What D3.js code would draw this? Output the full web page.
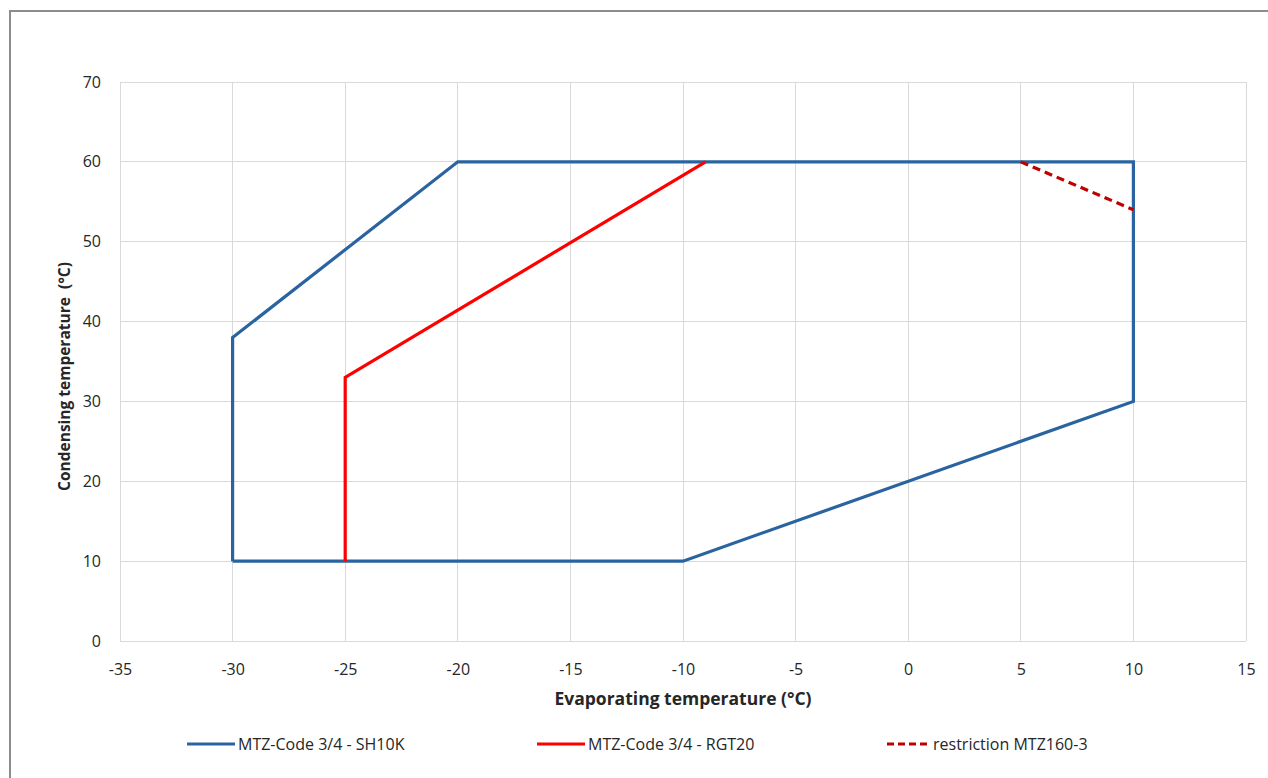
<!DOCTYPE html>
<html>
<head>
<meta charset="utf-8">
<script src="https://cdn.jsdelivr.net/npm/d3@7"></script>
<style>
  body { margin: 0; background: #fff; }
  svg text { font-family: "Open Sans", "Noto Sans", sans-serif; fill: #262626; }
</style>
</head>
<body>
<div id="chart"></div>
<script>
// envelope data (evaporating °C, condensing °C)
const sh10kX = [-30, -10, 10, 10, -20, -30, -30];
const sh10kY = [10, 10, 30, 60, 60, 38, 10];
const rgt20X = [-25, -25, -9];
const rgt20Y = [10, 33, 60];
const restrX = [5, 10];
const restrY = [60, 54];
const xTicks = [-35, -30, -25, -20, -15, -10, -5, 0, 5, 10, 15];
const yTicks = [0, 10, 20, 30, 40, 50, 60, 70];
const seriesNames = ["MTZ-Code 3/4 - SH10K", "MTZ-Code 3/4 - RGT20", "restriction MTZ160-3"];

const w = 1268, h = 778;
const plotL = 120, plotR = 1246, plotT = 82, plotB = 641;
const svg = d3.select("#chart").append("svg").attr("width", w).attr("height", h);

// outer frame (only top/left visible)
svg.append("path").attr("d", `M10,${h} L10,11 L${w},11`).attr("fill", "none")
    .attr("stroke", "#8c8c8c").attr("stroke-width", 2);

const x = d3.scaleLinear().domain([-35, 15]).range([plotL, plotR]);
const y = d3.scaleLinear().domain([0, 70]).range([plotB, plotT]);

// gridlines
svg.append("g").selectAll("line").data(xTicks).join("line")
    .attr("x1", d => x(d)).attr("x2", d => x(d)).attr("y1", plotT).attr("y2", plotB)
    .attr("stroke", "#d9d9d9").attr("shape-rendering", "crispEdges");
svg.append("g").selectAll("line").data(yTicks).join("line")
    .attr("x1", plotL).attr("x2", plotR).attr("y1", d => y(d)).attr("y2", d => y(d))
    .attr("stroke", "#d9d9d9").attr("shape-rendering", "crispEdges");

// axes labels
const xAxis = svg.append("g").attr("transform", `translate(0,${plotB})`)
    .call(d3.axisBottom(x).tickValues(xTicks).tickFormat(d => String(d)).tickSize(0).tickPadding(23));
xAxis.select(".domain").remove();
xAxis.selectAll("text").style("font-size", "16px").attr("fill", "#404040");

const yAxis = svg.append("g").attr("transform", `translate(${plotL},0)`)
    .call(d3.axisLeft(y).tickValues(yTicks).tickFormat(d => String(d)).tickSize(0).tickPadding(19));
yAxis.select(".domain").remove();
yAxis.selectAll("text").style("font-size", "16px").attr("fill", "#404040");

svg.append("text").attr("x", (plotL + plotR) / 2).attr("y", 705).attr("text-anchor", "middle")
    .style("font-size", "17.5px").style("font-weight", "bold").text("Evaporating temperature (°C)");
svg.append("text").attr("transform", `translate(70,${(plotT + plotB) / 2 + 15}) rotate(-90)`)
    .attr("text-anchor", "middle").style("font-size", "15.5px").style("font-weight", "bold")
    .style("white-space", "pre")
    .text("Condensing temperature  (°C)");

// series
const line = d3.line().x(d => x(d[0])).y(d => y(d[1]));
const series = [
    { pts: d3.zip(sh10kX, sh10kY), color: "#2a64a0", dash: null },
    { pts: d3.zip(rgt20X, rgt20Y), color: "#ff0000", dash: null },
    { pts: d3.zip(restrX, restrY), color: "#c00000", dash: "8,5" }
];
series.forEach(s => {
    svg.append("path").datum(s.pts).attr("d", line).attr("fill", "none")
        .attr("stroke", s.color).attr("stroke-width", 3.2)
        .attr("stroke-dasharray", s.dash).attr("stroke-linejoin", "miter");
});

// legend
const legX = [187, 537, 887];
const legLen = [48, 48, 43];
series.forEach((s, i) => {
    svg.append("line").attr("x1", legX[i]).attr("x2", legX[i] + legLen[i]).attr("y1", 744).attr("y2", 744)
        .attr("stroke", s.color).attr("stroke-width", 3.2).attr("stroke-dasharray", s.dash ? "7,4" : null);
    svg.append("text").attr("x", legX[i] + legLen[i] + 3).attr("y", 750)
        .style("font-size", "16px").attr("fill", "#404040").text(seriesNames[i]);
});
</script>
</body>
</html>
